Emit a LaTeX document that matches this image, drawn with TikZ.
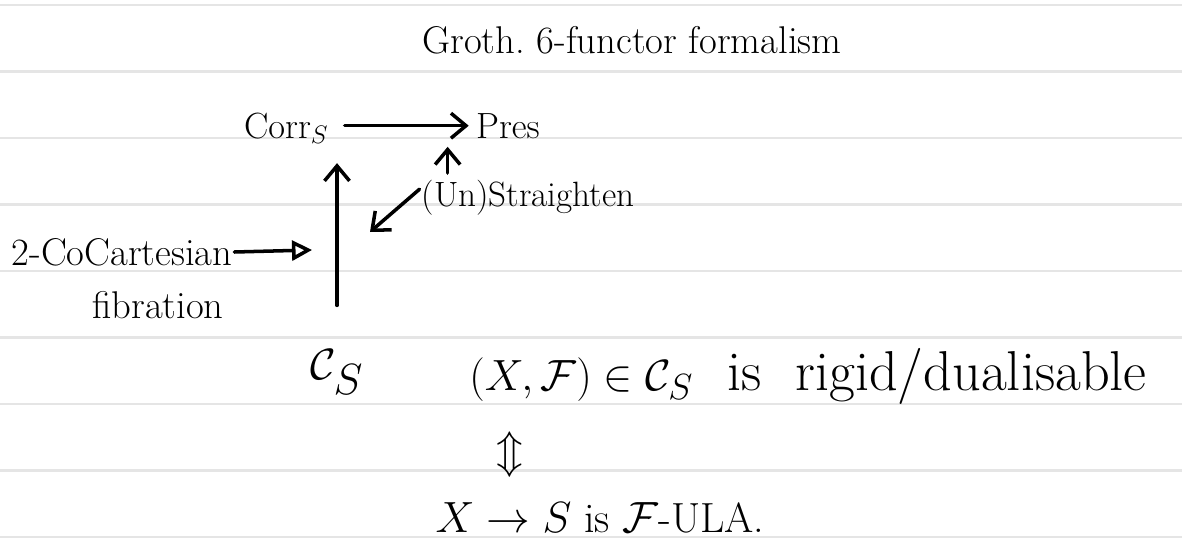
\documentclass[tikz,border=0pt]{standalone}
\usepackage{amsmath,amssymb}
\usetikzlibrary{arrows.meta}
\begin{document}
\begin{tikzpicture}[
  x=0.02cm, y=-0.02cm,
  txt/.style={font=\fontsize{22}{26}\selectfont, inner sep=1pt},
  big/.style={font=\fontsize{34}{38}\selectfont, inner sep=1pt},
  arr/.style={line width=2pt, line cap=round, -{Straight Barb[length=3mm, width=5mm]}},
  tri/.style={line width=2pt, line cap=round, -{Triangle[open, length=4mm, width=4mm]}},
  rule/.style={line width=1.2pt, draw=black!10}
]
\useasboundingbox (0,0) rectangle (1182,554);
% ruled paper
\foreach \y in {5,71.5,...,540}
  \draw[rule] (0,\y) -- (1182,\y);

\node[txt] (title) at (632,40) {Groth.\ 6-functor formalism};
\node[txt, anchor=base west] (corr) at (242,138) {$\mathrm{Corr}_S$};
\node[txt, anchor=base west] (pres) at (474,138) {$\mathrm{Pres}$};
\node[font=\fontsize{20}{24}\selectfont, inner sep=1pt] (unstr) at (528,198) {(Un)Straighten};
\node[txt] (cocart) at (122,252) {2-CoCartesian};
\node[txt] (fib) at (158,305) {fibration};
\node[big] (cs) at (337,372) {$\mathcal{C}_S$};
\node[font=\fontsize{32}{36}\selectfont, inner sep=1pt] (rigid) at (808,376) {$(X,\mathcal{F})\in\mathcal{C}_S$\ \ is\ \ rigid/dualisable};
\node[font=\fontsize{40}{44}\selectfont, inner sep=1pt] (iff) at (510,455) {$\Updownarrow$};
\node[font=\fontsize{24}{28}\selectfont, inner sep=1pt] (ula) at (600,518) {$X\to S$\ is\ $\mathcal{F}$-ULA.};

% Corr -> Pres
\draw[arr] ([xshift=8pt, yshift=7pt]corr.base east) -- ([xshift=-3pt, yshift=7pt]pres.base west)
  coordinate[pos=0.83] (mid);
% fibration
\draw[arr, shorten <=24pt, shorten >=10pt] (cs.north) -- (cs.north |- corr.south);
% (un)straightening
\draw[arr, shorten <=3pt] (unstr.north -| mid) -- ([yshift=-12pt]mid);
\coordinate (strtip) at (370,232);
\draw[arr] ([yshift=5pt]unstr.west) -- (strtip);
\coordinate (fibtip) at (312,250);
\draw[tri] (cocart.east) -- (fibtip);
\end{tikzpicture}
\end{document}
